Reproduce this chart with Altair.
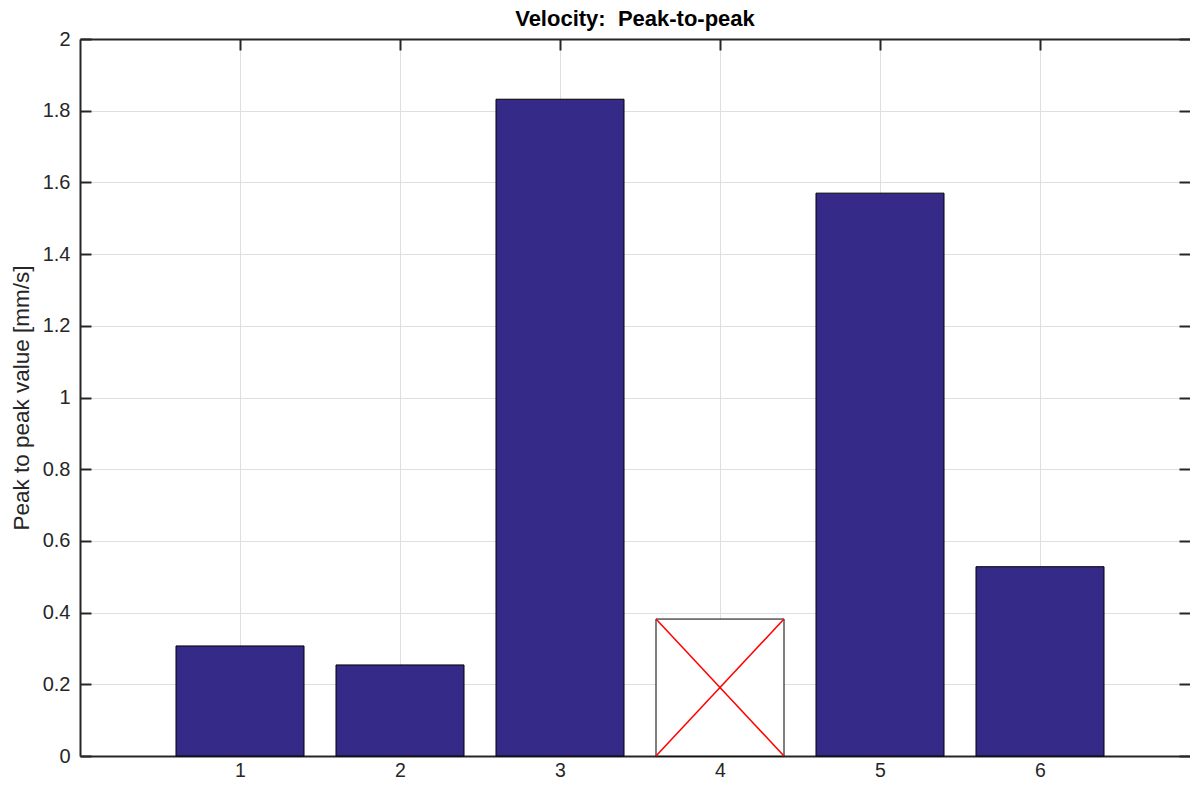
import altair as alt
import pandas as pd

categories = [1, 2, 3, 4, 5, 6]
values = [0.307, 0.254, 1.832, 0.382, 1.570, 0.528]
valid = [True, True, True, False, True, True]
x_ticks = [1, 2, 3, 4, 5, 6]
y_ticks = [0, 0.2, 0.4, 0.6, 0.8, 1.0, 1.2, 1.4, 1.6, 1.8, 2.0]

df = pd.DataFrame({"cat": categories, "val": values, "valid": valid})

FONT = "Liberation Sans"
AX = "#262626"
# page can only hold 1110 px of plot; keep 160 px per unit as in the reference
xs = alt.Scale(domain=[0, 6.9375], nice=False, zero=False)
ys = alt.Scale(domain=[0, 2], nice=False)

base = alt.Chart(df).transform_calculate(
    x0="datum.cat - 0.4", x1="datum.cat + 0.4", y0="0"
)

bars = base.mark_bar(stroke="black", strokeWidth=1).encode(
    x=alt.X("x0:Q", scale=xs, axis=alt.Axis(
        orient="bottom", values=x_ticks, grid=True, ticks=False, tickSize=0,
        domain=True, domainColor=AX, domainWidth=2,
        labelFontSize=19.5, labelPadding=5, labelColor=AX,
        labelFont=FONT, gridColor="#dfdfdf", gridWidth=1, title=None)),
    x2="x1:Q",
    y=alt.Y("y0:Q", scale=ys, axis=alt.Axis(
        orient="left", values=y_ticks, grid=True, ticks=False, tickSize=0,
        domain=True, domainColor=AX, domainWidth=2,
        labelFontSize=20, labelPadding=10, labelColor=AX,
        labelFont=FONT, format="~g", gridColor="#dfdfdf", gridWidth=1,
        title="Peak to peak value [mm/s]", titleFontSize=22.5,
        titleFontWeight="normal", titleColor=AX, titleFont=FONT,
        titlePadding=9)),
    y2="val:Q",
    fill=alt.condition("datum.valid", alt.value("#352A87"), alt.value("white")),
)

cross1 = base.transform_filter("!datum.valid").mark_rule(
    color="red", strokeWidth=1.5).encode(
    x=alt.X("x0:Q", scale=xs, axis=None), x2="x1:Q",
    y=alt.Y("y0:Q", scale=ys, axis=None), y2="val:Q")
cross2 = base.transform_filter("!datum.valid").mark_rule(
    color="red", strokeWidth=1.5).encode(
    x=alt.X("x0:Q", scale=xs, axis=None), x2="x1:Q",
    y=alt.Y("val:Q", scale=ys, axis=None), y2="y0:Q")

def tick_axis(orient, vals):
    return alt.Axis(orient=orient, values=vals, offset=-11, tickSize=11,
                    tickWidth=2, tickColor=AX, labels=False, domain=False,
                    grid=False, title=None)

ticks_bl = base.mark_point(opacity=0).encode(
    x=alt.X("cat:Q", scale=xs, axis=tick_axis("bottom", x_ticks)),
    y=alt.Y("val:Q", scale=ys, axis=tick_axis("left", y_ticks)),
)
ticks_tr = base.mark_point(opacity=0).encode(
    x=alt.X("cat:Q", scale=xs, axis=tick_axis("top", x_ticks)),
    y=alt.Y("val:Q", scale=ys, axis=tick_axis("right", y_ticks)),
)
frame_top = base.mark_point(opacity=0).encode(
    x=alt.X("cat:Q", scale=xs, axis=alt.Axis(
        orient="top", ticks=False, labels=False, grid=False, domain=True,
        domainColor=AX, domainWidth=2, title=None)),
    y=alt.Y("val:Q", scale=ys, axis=None),
)

chart = alt.layer(ticks_bl, ticks_tr, frame_top, bars, cross1, cross2).resolve_axis(
    x="independent", y="independent"
).properties(
    width=1110, height=717,
    title=alt.TitleParams("Velocity:\u00a0\u00a0Peak-to-peak", fontSize=22,
                          fontWeight="bold", color="black", font=FONT,
                          anchor="middle", offset=-2),
    autosize=alt.AutoSizeParams(type="none"),
    padding={"left": 72, "top": 31, "right": 0, "bottom": 25},
).configure(background="white")

chart.save("out.html", embed_options={"renderer": "svg", "actions": False})
